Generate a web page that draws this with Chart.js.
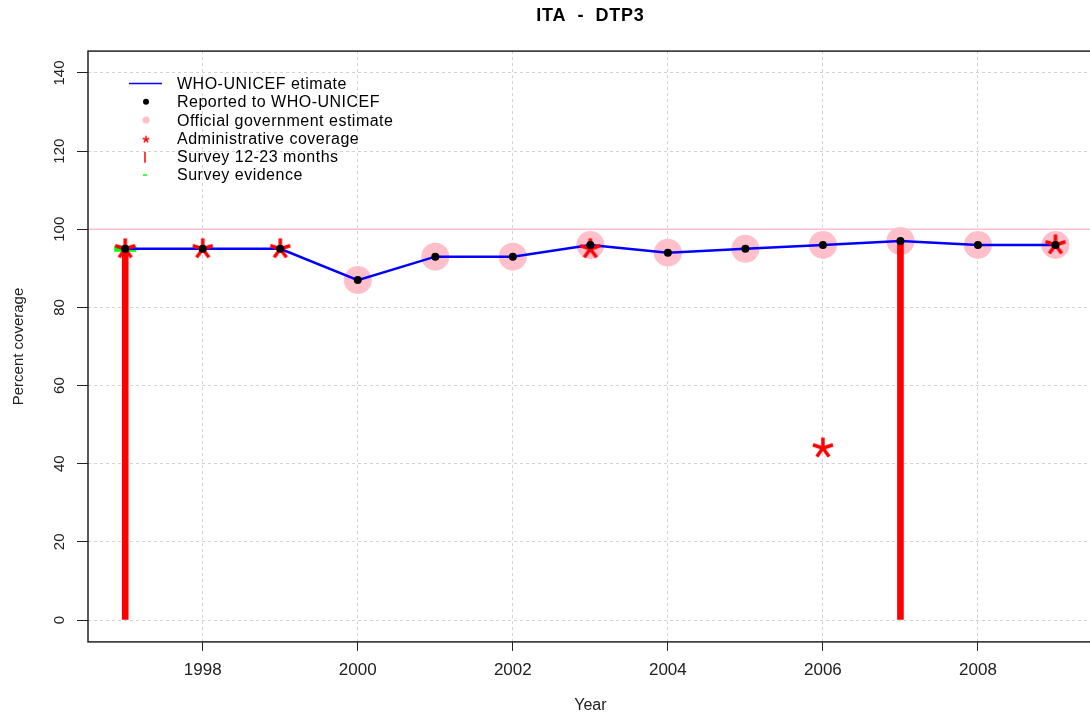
<!DOCTYPE html>
<html>
<head>
<meta charset="utf-8">
<title>ITA - DTP3</title>
<script src="https://cdn.jsdelivr.net/npm/chart.js@4.4.1/dist/chart.umd.min.js"></script>
<style>
html, body { margin: 0; padding: 0; background: #fff; overflow: hidden; }
#wrap { width: 1090px; height: 717px; overflow: hidden; }
#chart { display: block; width: 1100px; height: 717px; }
</style>
</head>
<body>
<div id="wrap"><canvas id="chart" width="1100" height="717"></canvas></div>
<script>
// data
const years = [1997, 1998, 1999, 2000, 2001, 2002, 2003, 2004, 2005, 2006, 2007, 2008, 2009];
const estimate = [95, 95, 95, 87, 93, 93, 96, 94, 95, 96, 97, 96, 96];
const reported = [95, 95, 95, 87, 93, 93, 96, 94, 95, 96, 97, 96, 96];
const official = [null, null, null, 87, 93, 93, 96, 94, 95, 96, 97, 96, 96];
const admin = [95, 95, 95, null, null, null, 95, null, null, 44, null, null, 96];
const surveyYears = [1997, 2007];
const survey = [95, 97];
const evidenceYears = [1997];
const evidence = [95];
const refLine = 100;

const xTicks = [1998, 2000, 2002, 2004, 2006, 2008];
const yTicks = [0, 20, 40, 60, 80, 100, 120, 140];
const xMin = 1996.52, xMax = 2009.48;
const yMin = -5.6, yMax = 145.6;

const titleText = 'ITA  -  DTP3';
const legendLabels = [
  'WHO-UNICEF etimate',
  'Reported to WHO-UNICEF',
  'Official government estimate',
  'Administrative coverage',
  'Survey 12-23 months',
  'Survey evidence'
];

const FONT = '"Liberation Sans", Arial, Helvetica, sans-serif';
Chart.defaults.font.family = FONT;

function pts(xs, ys) {
  const out = [];
  xs.forEach((x, i) => { if (ys[i] !== null) out.push({ x: x, y: ys[i] }); });
  return out;
}

// asterisk like R's pch="*"
function makeStar(arm, lw) {
  const s = Math.ceil(2 * arm + 2 * lw);
  const c = document.createElement('canvas');
  c.width = s; c.height = s;
  const g = c.getContext('2d');
  g.strokeStyle = '#ff0000';
  g.lineWidth = lw;
  g.translate(s / 2, s / 2);
  for (let k = 0; k < 5; k++) {
    const a = k * 2 * Math.PI / 5;
    g.beginPath();
    g.moveTo(0, 0);
    g.lineTo(arm * Math.sin(a), -arm * Math.cos(a));
    g.stroke();
  }
  return c;
}
const bigStar = makeStar(10.5, 3.5);
const smallStar = makeStar(3.5, 1.5);

const extras = {
  id: 'extras',
  beforeDatasetsDraw(chart) {
    const { ctx, chartArea: a, scales: { y } } = chart;
    const py = y.getPixelForValue(refLine);
    ctx.save();
    ctx.strokeStyle = 'pink';
    ctx.lineWidth = 1.5;
    ctx.beginPath();
    ctx.moveTo(a.left, py);
    ctx.lineTo(a.right, py);
    ctx.stroke();
    ctx.restore();
  },
  afterDraw(chart) {
    const { ctx, chartArea: a, scales: { y } } = chart;
    ctx.save();
    // plot box
    ctx.strokeStyle = '#222';
    ctx.lineWidth = 1.5;
    ctx.strokeRect(a.left, a.top, a.right - a.left, a.bottom - a.top);

    // main title over the plot centre
    ctx.fillStyle = '#000';
    ctx.font = 'bold 18px ' + FONT;
    ctx.letterSpacing = '0.7px';
    ctx.textAlign = 'center';
    ctx.textBaseline = 'middle';
    ctx.fillText(titleText, (a.left + a.right) / 2, 16);

    // y tick labels, parallel to the axis
    ctx.letterSpacing = '0px';
    ctx.fillStyle = '#222';
    ctx.font = '15px ' + FONT;
    y.ticks.forEach(t => {
      ctx.save();
      ctx.translate(60, y.getPixelForValue(t.value));
      ctx.rotate(-Math.PI / 2);
      ctx.fillText(String(t.value), 0, 0);
      ctx.restore();
    });

    // legend (no box)
    const sx = 146, tx = 177;
    ctx.font = '16px ' + FONT;
    ctx.letterSpacing = '0.5px';
    ctx.textAlign = 'left';
    legendLabels.forEach((lab, i) => {
      const ty = 84.5 + i * 18.3;
      const sy = ty - 1;
      ctx.fillStyle = '#000';
      ctx.fillText(lab, tx, ty);
      if (i === 0) {
        ctx.strokeStyle = 'blue'; ctx.lineWidth = 1.5;
        ctx.beginPath(); ctx.moveTo(129, sy); ctx.lineTo(162, sy); ctx.stroke();
      } else if (i === 1) {
        ctx.fillStyle = '#000';
        ctx.beginPath(); ctx.arc(sx, sy, 3, 0, Math.PI * 2); ctx.fill();
      } else if (i === 2) {
        ctx.fillStyle = 'pink';
        ctx.beginPath(); ctx.arc(sx, sy, 3.5, 0, Math.PI * 2); ctx.fill();
      } else if (i === 3) {
        ctx.drawImage(smallStar, sx - smallStar.width / 2, sy - smallStar.height / 2 + 1);
      } else if (i === 4) {
        ctx.strokeStyle = '#ff0000'; ctx.lineWidth = 1.5;
        ctx.beginPath(); ctx.moveTo(sx - 1, sy - 5); ctx.lineTo(sx - 1, sy + 6); ctx.stroke();
      } else {
        ctx.strokeStyle = '#00ff00'; ctx.lineWidth = 1.5;
        ctx.beginPath(); ctx.moveTo(sx - 3, sy); ctx.lineTo(sx + 1, sy); ctx.stroke();
      }
    });
    ctx.restore();
  }
};

new Chart(document.getElementById('chart'), {
  type: 'line',
  data: {
    datasets: [
      {
        label: 'Reported to WHO-UNICEF',
        data: pts(years, reported),
        showLine: false,
        pointRadius: 4,
        pointBackgroundColor: '#000',
        pointBorderWidth: 0,
        borderColor: '#000',
        order: 0
      },
      {
        label: 'Administrative coverage',
        data: pts(years, admin),
        showLine: false,
        pointStyle: bigStar,
        pointRadius: 10,
        borderColor: '#ff0000',
        order: 1
      },
      {
        label: 'WHO-UNICEF etimate',
        data: pts(years, estimate),
        borderColor: '#0000ff',
        borderWidth: 2.5,
        pointRadius: 0,
        tension: 0,
        order: 2
      },
      {
        type: 'bar',
        label: 'Survey 12-23 months',
        data: pts(surveyYears, survey),
        backgroundColor: '#ff0000',
        barThickness: 6,
        order: 3
      },
      {
        label: 'Survey evidence',
        data: pts(evidenceYears, evidence),
        showLine: false,
        pointStyle: 'line',
        pointRadius: 11,
        pointBorderWidth: 6,
        pointBorderColor: '#00ff00',
        borderColor: '#00ff00',
        order: 4
      },
      {
        label: 'Official government estimate',
        data: pts(years, official),
        showLine: false,
        pointRadius: 14,
        pointBackgroundColor: 'pink',
        pointBorderWidth: 0,
        borderColor: 'pink',
        order: 5
      }
    ]
  },
  options: {
    responsive: false,
    animation: false,
    events: [],
    // plot box runs just past the visible 1090px, as in the reference
    layout: { autoPadding: false, padding: { left: 0, right: 7.3, top: 51.1, bottom: 0 } },
    plugins: {
      legend: { display: false },
      tooltip: { enabled: false },
      title: { display: false }
    },
    scales: {
      x: {
        type: 'linear',
        min: xMin,
        max: xMax,
        offset: false,
        afterBuildTicks: s => { s.ticks = xTicks.map(v => ({ value: v })); },
        afterFit: s => { s.height = 75.1; },
        grid: { offset: false, color: '#d3d3d3', lineWidth: 1, tickLength: 9, tickColor: '#222', tickWidth: 1 },
        border: { display: false, dash: [3, 3] },
        ticks: { color: '#222', font: { size: 17 }, padding: 9, maxRotation: 0, autoSkip: false, callback: v => String(v) },
        title: { display: true, text: 'Year', color: '#222', font: { size: 16 }, padding: { top: 0, bottom: 1.4 } }
      },
      y: {
        type: 'linear',
        min: yMin,
        max: yMax,
        afterBuildTicks: s => { s.ticks = yTicks.map(v => ({ value: v })); },
        afterFit: s => { s.width = 88; },
        grid: { color: '#d3d3d3', lineWidth: 1, tickLength: 11, tickColor: '#222', tickWidth: 1 },
        border: { display: false, dash: [3, 3] },
        ticks: { display: false },
        title: { display: true, text: 'Percent coverage', color: '#222', font: { size: 15 }, padding: { top: 10, bottom: 0 } }
      }
    }
  },
  plugins: [extras]
});
</script>
</body>
</html>
